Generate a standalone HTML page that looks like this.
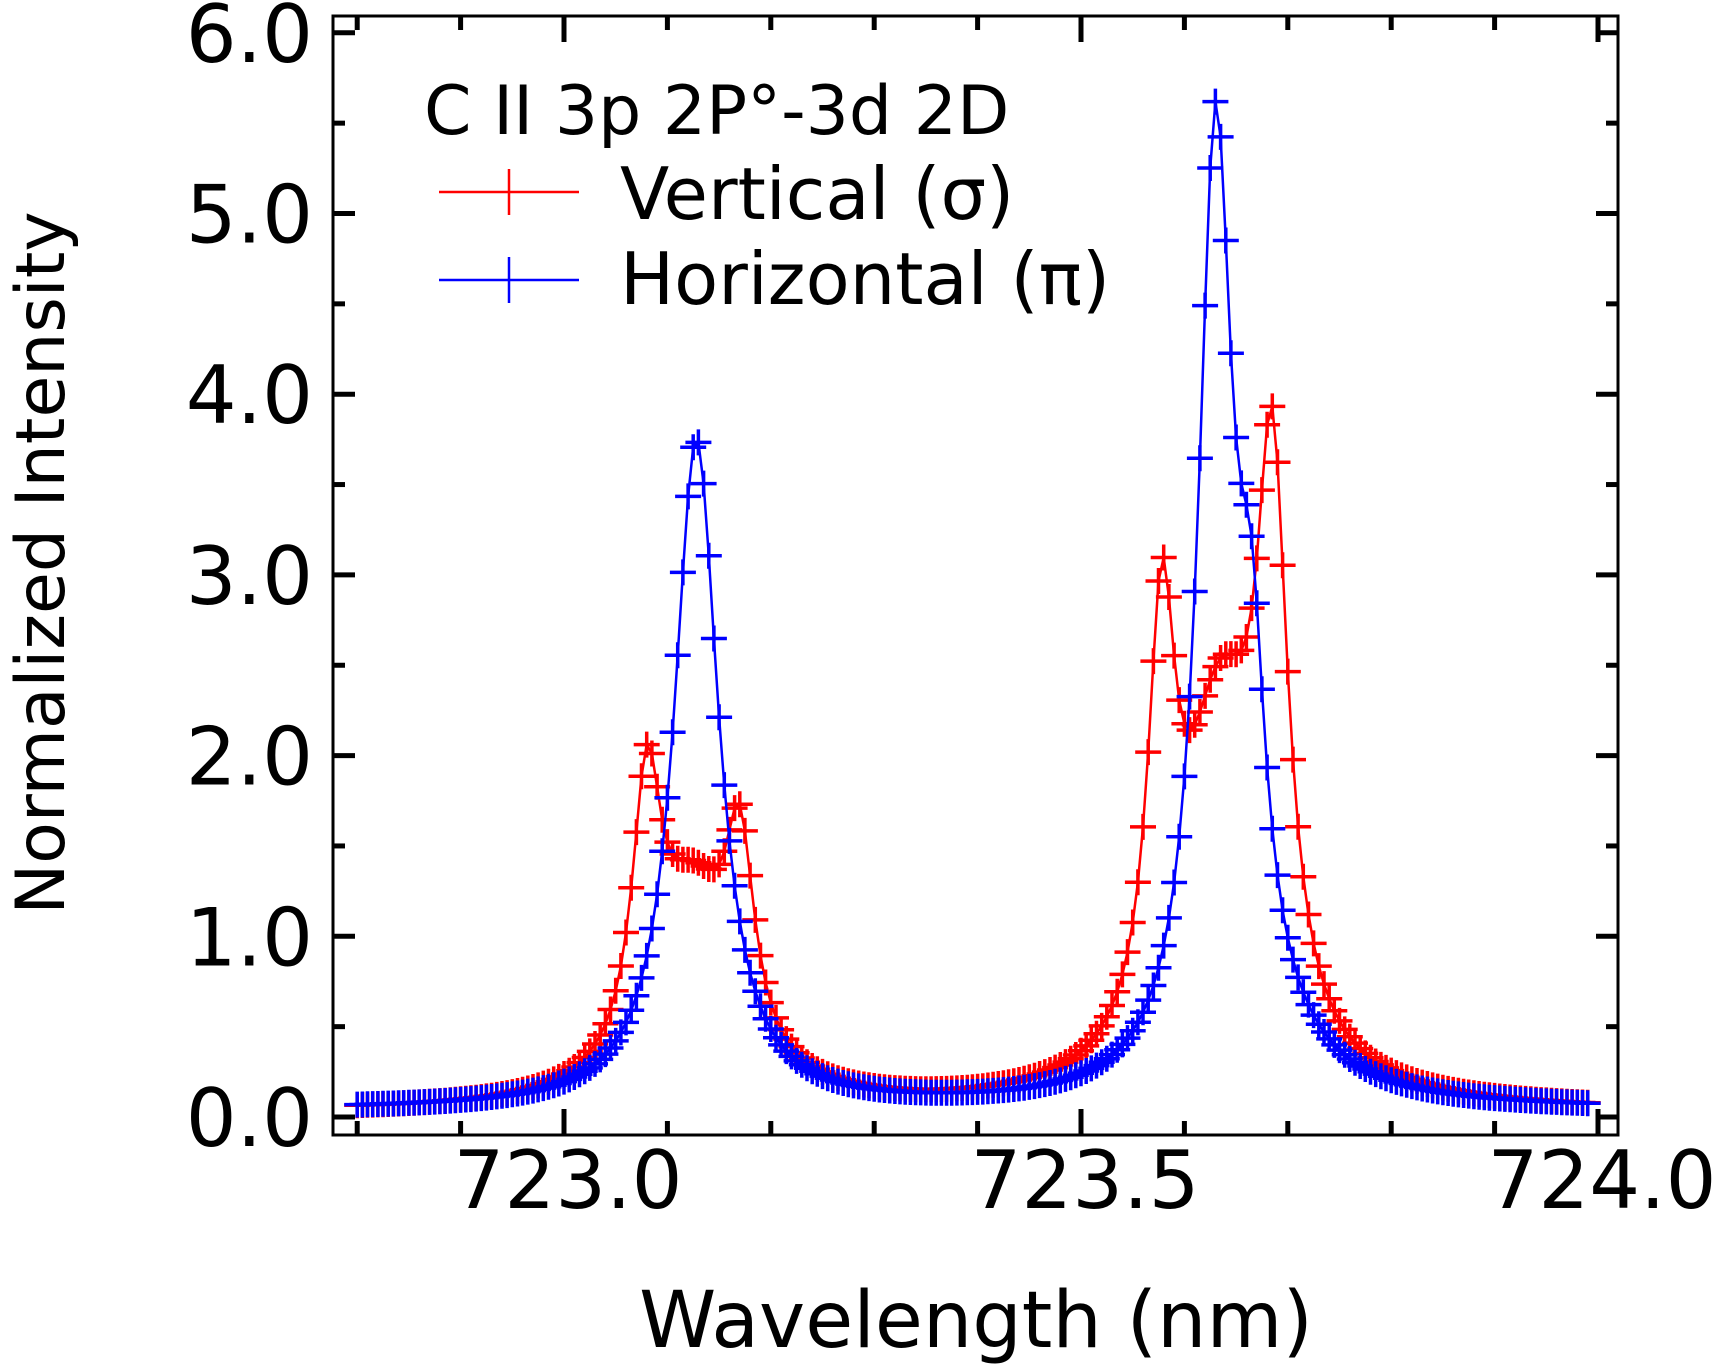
<!DOCTYPE html>
<html><head><meta charset="utf-8"><style>
html,body{margin:0;padding:0;background:#fff;width:1720px;height:1367px;overflow:hidden}
svg{display:block}
text{font-family:"DejaVu Sans","Liberation Sans",sans-serif;fill:#000}
</style></head><body>
<svg id="s" width="1720" height="1367" viewBox="0 0 1720 1367" xmlns="http://www.w3.org/2000/svg">
<g id="data"></g>
<rect x="333" y="16" width="1285" height="1119" fill="none" stroke="#000" stroke-width="3"/>
<g id="ticks" stroke="#000" stroke-width="5"></g>
<g font-size="80" text-anchor="end" id="ylab"></g>
<g font-size="80" text-anchor="middle">
<text x="568" y="1208">723.0</text>
<text x="1085" y="1208">723.5</text>
<text x="1602" y="1208">724.0</text>
</g>
<text x="976" y="1347" font-size="78" text-anchor="middle">Wavelength (nm)</text>
<text transform="translate(64,563) rotate(-90)" font-size="68" text-anchor="middle">Normalized Intensity</text>
<text x="424" y="134" font-size="68">C II 3p 2P°-3d 2D</text>
<g stroke-width="2.5">
<line x1="439" y1="192" x2="579" y2="192" stroke="#f00"/>
<line x1="509" y1="169" x2="509" y2="215" stroke="#f00"/>
<line x1="439" y1="280" x2="579" y2="280" stroke="#00f"/>
<line x1="509" y1="257" x2="509" y2="303" stroke="#00f"/>
</g>
<text x="620" y="219" font-size="72">Vertical (σ)</text>
<text x="620" y="304" font-size="72">Horizontal (π)</text>
</svg>
<script>
const X=l=>564+(l-723.0)*1034, Y=v=>1117-v*180.7;
const L=(x,c,A,g)=>A*g*g/((x-c)*(x-c)+g*g);
function red(x){return 0.03+L(x,723.08,1.45,.017)+L(x,723.17,1.1,.017)+L(x,723.125,1.05,.045)
 +L(x,723.578,2.2,.016)+L(x,723.685,2.95,.018)+L(x,723.635,2.0,.045);}
function blue(x){return 0.04+L(x,723.128,3.7,.026)+L(x,723.63,4.95,.02)+L(x,723.665,1.5,.016)+L(x,723.66,0.45,.06);}
const ns="http://www.w3.org/2000/svg",d=document.getElementById('data');
function series(f,col){
 let p="",m="";
 for(let l=722.8;l<=723.99;l+=0.005){const x=X(l),y=Y(f(l));p+=(p?"L":"M")+x.toFixed(1)+" "+y.toFixed(1);
  m+=`M${(x-13).toFixed(1)} ${y.toFixed(1)}h26M${x.toFixed(1)} ${(y-13).toFixed(1)}v26`;}
 const a=document.createElementNS(ns,'path');a.setAttribute('d',p);a.setAttribute('stroke',col);a.setAttribute('fill','none');a.setAttribute('stroke-width','2.5');d.appendChild(a);
 const b=document.createElementNS(ns,'path');b.setAttribute('d',m);b.setAttribute('stroke',col);b.setAttribute('fill','none');b.setAttribute('stroke-width','3.5');d.appendChild(b);
}
series(red,'#f00');series(blue,'#00f');
const t=document.getElementById('ticks');let s="";
for(let v=0;v<=6.01;v+=0.5){const y=Y(v),len=(Math.round(v*2)%2==0)?22:12;
 s+=`<line x1="333" y1="${y}" x2="${333+len}" y2="${y}"/><line x1="1618" y1="${y}" x2="${1618-len}" y2="${y}"/>`;}
for(let i=-2;i<=10;i++){const x=X(723+i*0.1),len=(i%5==0)?26:14;
 s+=`<line x1="${x}" y1="1135" x2="${x}" y2="${1135-len}"/><line x1="${x}" y1="16" x2="${x}" y2="${16+len}"/>`;}
t.innerHTML=s;
let yl="";for(let v=0;v<=6;v++)yl+=`<text x="313" y="${Y(v)+29}">${v}.0</text>`;
document.getElementById('ylab').innerHTML=yl;
</script>
</body></html>
